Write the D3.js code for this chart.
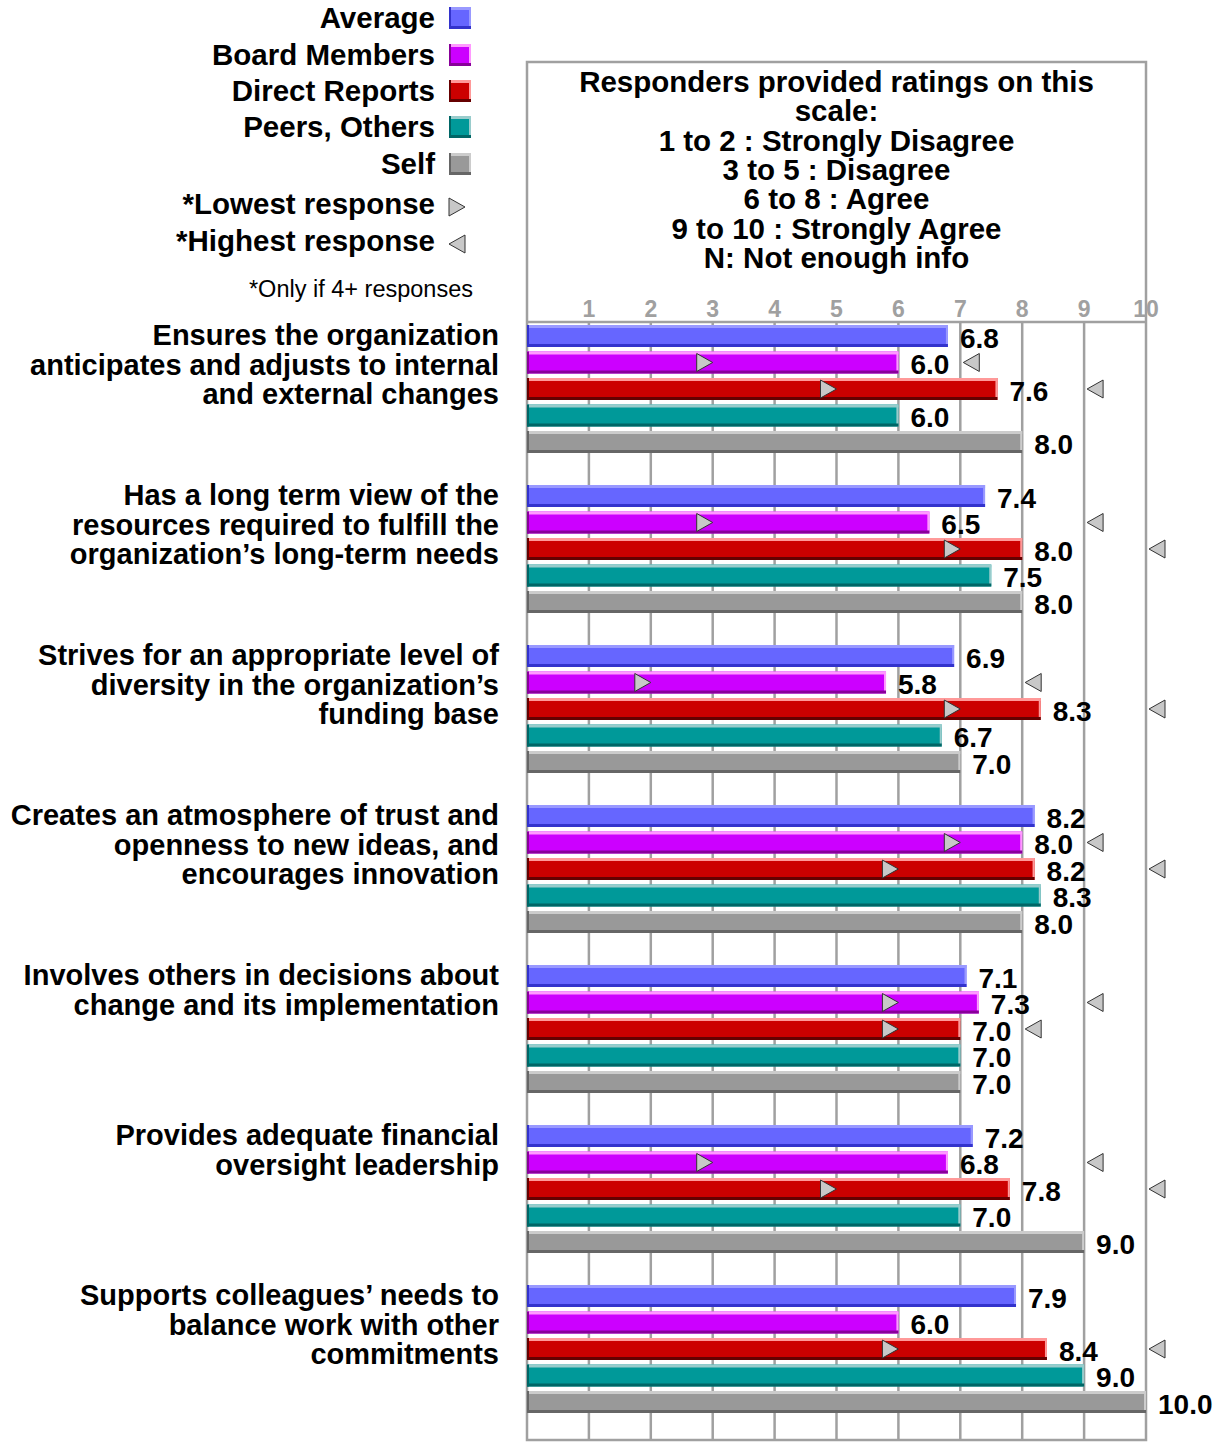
<!DOCTYPE html>
<html>
<head>
<meta charset="utf-8">
<script src="https://cdn.jsdelivr.net/npm/d3@7/dist/d3.min.js"></script>
<style>
  body { margin: 0; background: #fff; }
  svg { display: block; font-family: "Liberation Sans", Arial, sans-serif; }
</style>
</head>
<body>
<svg width="1220" height="1442"></svg>
<script>
// chart data
const categoryLines = [
  ['Ensures the organization', 'anticipates and adjusts to internal', 'and external changes'],
  ['Has a long term view of the', 'resources required to fulfill the', 'organization\u2019s long-term needs'],
  ['Strives for an appropriate level of', 'diversity in the organization\u2019s', 'funding base'],
  ['Creates an atmosphere of trust and', 'openness to new ideas, and', 'encourages innovation'],
  ['Involves others in decisions about', 'change and its implementation'],
  ['Provides adequate financial', 'oversight leadership'],
  ['Supports colleagues\u2019 needs to', 'balance work with other', 'commitments']
]
const series = ['Average', 'Board Members', 'Direct Reports', 'Peers, Others', 'Self']
const average = [6.8, 7.4, 6.9, 8.2, 7.1, 7.2, 7.9]
const board = [6.0, 6.5, 5.8, 8.0, 7.3, 6.8, 6.0]
const direct = [7.6, 8.0, 8.3, 8.2, 7.0, 7.8, 8.4]
const peers = [6.0, 7.5, 6.7, 8.3, 7.0, 7.0, 9.0]
const self = [8.0, 8.0, 7.0, 8.0, 7.0, 9.0, 10.0]
const boardLow = [3, 3, 2, 7, 6, 3, null]
const boardHigh = [7, 9, 8, 9, 9, 9, null]
const directLow = [5, 7, 7, 6, 6, 5, 6]
const directHigh = [9, 10, 10, 10, 8, 10, 10]
const ticks = [1, 2, 3, 4, 5, 6, 7, 8, 9, 10]
const scaleLines = [
  'Responders provided ratings on this', 'scale:', '1 to 2 : Strongly Disagree',
  '3 to 5 : Disagree', '6 to 8 : Agree', '9 to 10 : Strongly Agree', 'N: Not enough info'
]

const seriesValues = [average, board, direct, peers, self]
const lows = [null, boardLow, directLow, null, null]
const highs = [null, boardHigh, directHigh, null, null]

// fill, light edge, dark edge
const colours = [
  ['#6666ff', '#9999ff', '#3333cc'],
  ['#cc00ff', '#ff99ff', '#880099'],
  ['#cc0000', '#ff9999', '#660000'],
  ['#009999', '#99cccc', '#006666'],
  ['#999999', '#cccccc', '#666666']
]
const grey = '#a0a0a0'

const svg = d3.select('svg')
const left = 527, right = 1146, boxTop = 62, axisY = 322, bottom = 1440

const x = d3.scaleLinear().domain([0, 10]).range([left, right])
const y0 = d3.scaleBand().domain(d3.range(categoryLines.length)).range([325, 325 + 160 * 7])
const y1 = d3.scaleBand().domain(d3.range(series.length)).range([0, 128]).paddingInner(0.17)
const bh = y1.bandwidth()

// bevelled box used for bars and legend swatches
const bevel = (g, x0, yTop, w, h, c) => {
  g.append('rect').attr('x', x0).attr('y', yTop).attr('width', w).attr('height', h).attr('fill', c[0])
  g.append('rect').attr('x', x0).attr('y', yTop).attr('width', w).attr('height', 3).attr('fill', c[1])
  g.append('rect').attr('x', x0 + w - 2).attr('y', yTop).attr('width', 2).attr('height', h).attr('fill', c[1])
  g.append('rect').attr('x', x0).attr('y', yTop + h - 3).attr('width', w).attr('height', 3).attr('fill', c[2])
  g.append('rect').attr('x', x0).attr('y', yTop).attr('width', 2).attr('height', h).attr('fill', c[2])
}

const triangle = (g, tipX, cy, dir) => {
  const w = 16, hh = 9
  const bx = tipX - dir * w
  g.append('path')
    .attr('d', `M${tipX},${cy}L${bx},${cy - hh}L${bx},${cy + hh}Z`)
    .attr('fill', '#c8c8c8')
    .attr('stroke', '#333')
    .attr('stroke-width', 1)
}

// frame, axis and grid
const frame = svg.append('g')
frame.append('rect')
  .attr('x', left).attr('y', boxTop)
  .attr('width', right - left).attr('height', bottom - boxTop)
  .attr('fill', 'none').attr('stroke', grey).attr('stroke-width', 2.5)
frame.append('line')
  .attr('x1', left).attr('x2', right).attr('y1', axisY).attr('y2', axisY)
  .attr('stroke', grey).attr('stroke-width', 2.5)
frame.selectAll('.grid').data(ticks.slice(0, -1)).join('line')
  .attr('x1', (d) => x(d)).attr('x2', (d) => x(d))
  .attr('y1', axisY).attr('y2', bottom)
  .attr('stroke', grey).attr('stroke-width', 2.5)
frame.selectAll('.tick').data(ticks).join('text')
  .attr('x', (d) => x(d)).attr('y', 317)
  .attr('text-anchor', 'middle')
  .attr('font-size', 23).attr('font-weight', 'bold').attr('fill', grey)
  .text((d) => d)

// scale explanation
frame.append('g').selectAll('text').data(scaleLines).join('text')
  .attr('x', (left + right) / 2).attr('y', (d, i) => 92 + i * 29.3)
  .attr('text-anchor', 'middle')
  .attr('font-size', 29.5).attr('font-weight', 'bold')
  .text((d) => d)

// category labels
const labels = svg.append('g')
categoryLines.forEach((lines, i) => {
  labels.append('text')
    .attr('text-anchor', 'end')
    .attr('font-size', 29).attr('font-weight', 'bold')
    .selectAll('tspan').data(lines).join('tspan')
    .attr('x', 499).attr('y', (d, k) => y0(i) + 20 + k * 29.7)
    .text((d) => d)
})

// bars, values, markers
const bars = svg.append('g')
const marks = svg.append('g')
categoryLines.forEach((lines, i) => {
  seriesValues.forEach((vals, s) => {
    const v = vals[i]
    const top = y0(i) + y1(s)
    bevel(bars, x(0), top, x(v) - x(0), bh, colours[s])
    marks.append('text')
      .attr('x', x(v) + 12).attr('y', top + bh + 1)
      .attr('font-size', 28).attr('font-weight', 'bold')
      .text(v.toFixed(1))
    if (lows[s] && lows[s][i] != null) triangle(marks, x(lows[s][i]), top + bh / 2, 1)
    if (highs[s] && highs[s][i] != null) triangle(marks, x(highs[s][i]) + 3, top + bh / 2, -1)
  })
})

// legend
const legend = svg.append('g')
const legendY = [18, 55, 91, 127, 164]
series.forEach((name, s) => {
  legend.append('text')
    .attr('x', 435).attr('y', legendY[s] + 10)
    .attr('text-anchor', 'end')
    .attr('font-size', 29.5).attr('font-weight', 'bold')
    .text(name)
  bevel(legend, 449, legendY[s] - 11, 22, 22, colours[s])
})
const markerRows = [['*Lowest response', 207, 1], ['*Highest response', 244, -1]]
markerRows.forEach(([name, cy, dir]) => {
  legend.append('text')
    .attr('x', 435).attr('y', cy + 7)
    .attr('text-anchor', 'end')
    .attr('font-size', 29.5).attr('font-weight', 'bold')
    .text(name)
  triangle(legend, dir > 0 ? 465 : 449, cy, dir)
})
legend.append('text')
  .attr('x', 473).attr('y', 297)
  .attr('text-anchor', 'end')
  .attr('font-size', 23.5)
  .text('*Only if 4+ responses')
</script>
</body>
</html>
